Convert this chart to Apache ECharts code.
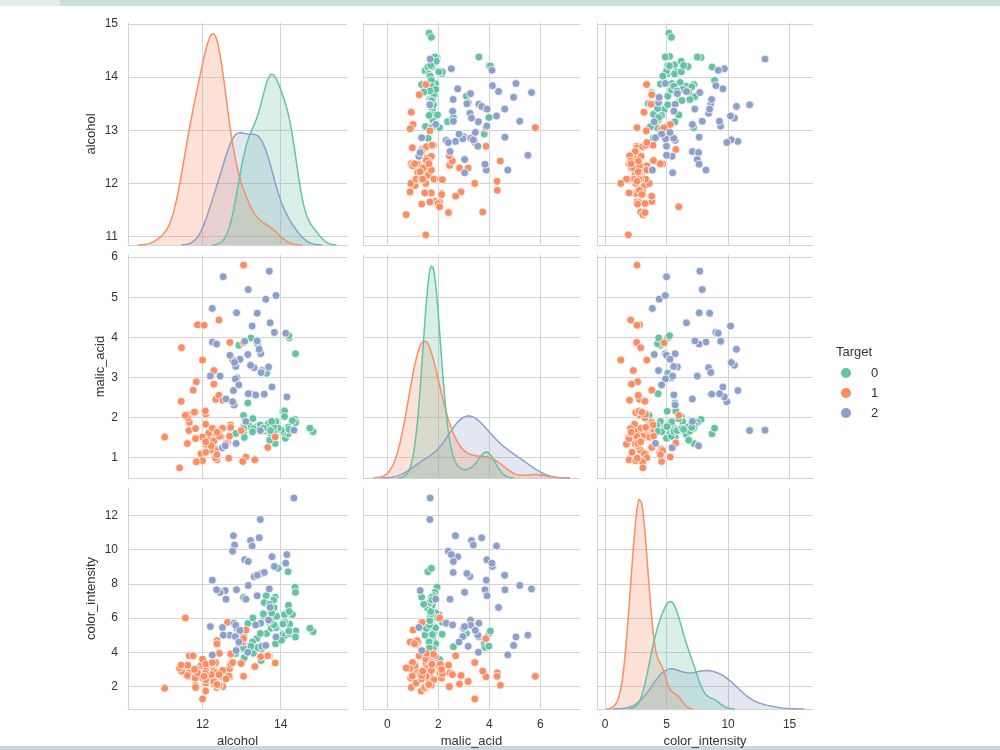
<!DOCTYPE html>
<html>
<head>
<meta charset="utf-8">
<title>wine pairplot</title>
<script src="https://cdn.jsdelivr.net/npm/echarts@6/dist/echarts.min.js"></script>
<style>
  html, body { margin: 0; padding: 0; background: #fff; }
  #pairplot { width: 1000px; height: 750px; }
</style>
</head>
<body>
<div id="pairplot"></div>
<script>
// wine measurements, split by target class (0, 1, 2)
const alcohol0 = [14.23, 13.2, 13.16, 14.37, 13.24, 14.2, 14.39, 14.06, 14.83, 13.86, 14.1, 14.12, 13.75, 14.75, 14.38, 13.63, 14.3, 13.83, 14.19, 13.64, 14.06, 12.93, 13.71, 12.85, 13.5, 13.05, 13.39, 13.3, 13.87, 14.02, 13.73, 13.58, 13.68, 13.76, 13.51, 13.48, 13.28, 13.05, 13.07, 14.22, 13.56, 13.41, 13.88, 13.24, 13.05, 14.21, 14.38, 13.9, 14.1, 13.94, 13.05, 13.83, 13.82, 13.77, 13.74, 13.56, 14.22, 13.29, 13.72];
const alcohol1 = [12.37, 12.33, 12.64, 13.67, 12.37, 12.17, 12.37, 13.11, 12.37, 13.34, 12.21, 12.29, 13.86, 13.49, 12.99, 11.96, 11.66, 13.03, 11.84, 12.33, 12.7, 12, 12.72, 12.08, 13.05, 11.84, 12.67, 12.16, 11.65, 11.64, 12.08, 12.08, 12, 12.69, 12.29, 11.62, 12.47, 11.81, 12.29, 12.37, 12.29, 12.08, 12.6, 12.34, 11.82, 12.51, 12.42, 12.25, 12.72, 12.22, 11.61, 11.46, 12.52, 11.76, 11.41, 12.08, 11.03, 11.82, 12.42, 12.77, 12, 11.45, 11.56, 12.42, 13.05, 11.87, 12.07, 12.43, 11.79, 12.37, 12.04];
const alcohol2 = [12.86, 12.88, 12.81, 12.7, 12.51, 12.6, 12.25, 12.53, 13.49, 12.84, 12.93, 13.36, 13.52, 13.62, 12.25, 13.16, 13.88, 12.87, 13.32, 13.08, 13.5, 12.79, 13.11, 13.23, 12.58, 13.17, 13.84, 12.45, 14.34, 13.48, 12.36, 13.69, 12.85, 12.96, 13.78, 13.73, 13.45, 12.82, 13.58, 13.4, 12.2, 12.77, 14.16, 13.71, 13.4, 13.27, 13.17, 14.13];

const malic0 = [1.71, 1.78, 2.36, 1.95, 2.59, 1.76, 1.87, 2.15, 1.64, 1.35, 2.16, 1.48, 1.73, 1.73, 1.87, 1.81, 1.92, 1.57, 1.59, 3.1, 1.63, 3.8, 1.86, 1.6, 1.81, 2.05, 1.77, 1.72, 1.9, 1.68, 1.5, 1.66, 1.83, 1.53, 1.8, 1.81, 1.64, 1.65, 1.5, 3.99, 1.71, 3.84, 1.89, 3.98, 1.77, 4.04, 3.59, 1.68, 2.02, 1.73, 1.73, 1.65, 1.75, 1.9, 1.67, 1.73, 1.7, 1.97, 1.43];
const malic1 = [0.94, 1.1, 1.36, 1.25, 1.13, 1.45, 1.21, 1.01, 1.17, 0.94, 1.19, 1.61, 1.51, 1.66, 1.67, 1.09, 1.88, 0.9, 2.89, 0.99, 3.87, 0.92, 1.81, 1.13, 3.86, 0.89, 0.98, 1.61, 1.67, 2.06, 1.33, 1.83, 1.51, 1.53, 2.83, 1.99, 1.52, 2.12, 1.41, 1.07, 3.17, 2.08, 1.34, 2.45, 1.72, 1.73, 2.55, 1.73, 1.75, 1.29, 1.35, 3.74, 2.43, 2.68, 0.74, 1.39, 1.51, 1.47, 1.61, 3.43, 3.43, 2.4, 2.05, 4.43, 5.8, 4.31, 2.16, 1.53, 2.13, 1.63, 4.3];
const malic2 = [1.35, 2.99, 2.31, 3.55, 1.24, 2.46, 4.72, 5.51, 3.59, 2.96, 2.81, 2.56, 3.17, 4.95, 3.88, 3.57, 5.04, 4.61, 3.24, 3.9, 3.12, 2.67, 1.9, 3.3, 1.29, 5.19, 4.12, 3.03, 1.68, 1.67, 3.83, 3.26, 3.27, 3.45, 2.76, 4.36, 3.7, 3.37, 2.58, 4.6, 3.03, 2.39, 2.51, 5.65, 3.91, 4.28, 2.59, 4.1];

const color0 = [5.64, 4.38, 5.68, 7.8, 4.32, 6.75, 5.25, 5.05, 5.2, 7.22, 5.75, 5, 5.6, 5.4, 7.5, 7.3, 6.2, 6.6, 8.7, 5.1, 5.65, 4.5, 3.8, 3.93, 3.52, 3.58, 4.8, 3.95, 4.5, 4.7, 5.7, 6.9, 3.84, 5.4, 4.2, 5.1, 4.6, 4.25, 3.7, 5.1, 6.13, 4.28, 5.43, 4.36, 5.04, 5.24, 4.9, 6.1, 6.2, 8.9, 7.2, 5.6, 7.05, 6.3, 5.85, 6.25, 6.38, 6, 6.8];
const color1 = [1.95, 3.27, 5.75, 3.8, 4.45, 2.95, 4.6, 5.3, 4.68, 3.17, 2.85, 3.05, 3.38, 3.74, 3.35, 3.21, 3.8, 4.6, 2.65, 3.4, 2.57, 2.5, 3.9, 2.2, 4.8, 3.05, 2.62, 2.45, 2.6, 2.8, 1.74, 2.4, 3.6, 3.05, 2.15, 3.25, 2.6, 2.5, 2.9, 4.5, 2.3, 3.3, 2.45, 2.8, 2.06, 2.94, 2.7, 3.4, 3.3, 2.7, 2.65, 2.9, 2, 3.8, 3.08, 2.9, 1.9, 1.95, 2.06, 3.4, 1.28, 3.25, 6, 2.08, 2.6, 2.8, 2.76, 3.94, 3, 2.12, 2.6];
const color2 = [4.1, 5.4, 5.7, 5, 5.45, 7.1, 3.85, 5, 5.7, 4.92, 4.6, 5.6, 4.35, 4.4, 8.21, 4, 4.9, 7.65, 8.42, 9.4, 8.6, 10.8, 7.1, 10.52, 7.6, 7.9, 9.01, 7.5, 13, 11.75, 7.65, 5.88, 5.58, 5.28, 9.58, 6.62, 10.68, 10.26, 8.66, 8.5, 5.5, 9.9, 9.7, 7.7, 7.3, 10.2, 9.3, 9.2];

const targets = ['0', '1', '2'];
const varNames = ['alcohol', 'malic_acid', 'color_intensity'];
const alcoholTicksX = [12, 14];
const alcoholTicksY = [11, 12, 13, 14, 15];
const malicTicksX = [0, 2, 4, 6];
const malicTicksY = [1, 2, 3, 4, 5, 6];
const colorTicksX = [0, 5, 10, 15];
const colorTicksY = [2, 4, 6, 8, 10, 12];

// layout (Set2 palette, seaborn whitegrid look)
const palette = ['#66c2a5', '#fc8d62', '#8da0cb'];
const gridColor = '#d3d3d3';
const textColor = '#333';
const fontFamily = '"Liberation Sans", Arial, sans-serif';
const colLeft = [128, 363, 597];
const colWidth = [219, 217, 216];
const rowTop = [23, 255, 488];
const rowHeight = [222, 223, 221];
const xRange = [[10.09, 15.70], [-0.95, 7.55], [-0.65, 16.9]];
const yRange = [[10.84, 15.02], [0.487, 6.053], [0.694, 13.586]];
const yNameGap = [30, 21, 30];

const columns = [
  [alcohol0, alcohol1, alcohol2],
  [malic0, malic1, malic2],
  [color0, color1, color2]
];
const xTicks = [alcoholTicksX, malicTicksX, colorTicksX];
const yTicks = [alcoholTicksY, malicTicksY, colorTicksY];
const totalCount = alcohol0.length + alcohol1.length + alcohol2.length;

// gaussian kde like seaborn (scott bandwidth, cut=3, common_norm)
function kdeCurve(values) {
  const n = values.length;
  const mean = values.reduce((a, b) => a + b, 0) / n;
  const sd = Math.sqrt(values.reduce((a, v) => a + (v - mean) * (v - mean), 0) / (n - 1));
  const bw = sd * Math.pow(n, -0.2);
  const lo = Math.min(...values) - 3 * bw;
  const hi = Math.max(...values) + 3 * bw;
  const pts = [];
  for (let i = 0; i < 200; i++) {
    const x = lo + (hi - lo) * i / 199;
    let s = 0;
    for (const v of values) {
      const z = (x - v) / bw;
      s += Math.exp(-0.5 * z * z);
    }
    pts.push([x, s / (bw * Math.sqrt(2 * Math.PI)) / totalCount]);
  }
  return pts;
}

const grids = [], xAxes = [], yAxes = [], scatterSeries = [], kdeSeries = [];

for (let r = 0; r < 3; r++) {
  for (let c = 0; c < 3; c++) {
    const g = r * 3 + c;
    grids.push({ left: colLeft[c], top: rowTop[r], width: colWidth[c], height: rowHeight[r] });
    xAxes.push({
      type: 'value', gridIndex: g, min: xRange[c][0], max: xRange[c][1],
      name: r === 2 ? varNames[c] : '', nameLocation: 'middle', nameGap: 26,
      nameTextStyle: { fontSize: 13, color: textColor, fontFamily: fontFamily },
      axisLine: { show: true, onZero: false, lineStyle: { color: gridColor, width: 1 } },
      axisTick: { show: false, customValues: xTicks[c] },
      axisLabel: { show: r === 2, customValues: xTicks[c], margin: 10, fontSize: 12, color: textColor, fontFamily: fontFamily },
      splitLine: { show: true, lineStyle: { color: gridColor, width: 1 } }
    });
    yAxes[g] = {
      type: 'value', gridIndex: g, min: yRange[r][0], max: yRange[r][1],
      name: c === 0 ? varNames[r] : '', nameLocation: 'middle', nameGap: yNameGap[r],
      nameTextStyle: { fontSize: 13, color: textColor, fontFamily: fontFamily },
      axisLine: { show: true, onZero: false, lineStyle: { color: gridColor, width: 1 } },
      axisTick: { show: false, customValues: yTicks[r] },
      axisLabel: { show: c === 0, customValues: yTicks[r], margin: 10, fontSize: 12, color: textColor, fontFamily: fontFamily },
      splitLine: { show: true, lineStyle: { color: gridColor, width: 1 } }
    };

    if (r !== c) {
      for (let k = 0; k < 3; k++) {
        const xs = columns[c][k], ys = columns[r][k];
        scatterSeries.push({
          type: 'scatter', name: targets[k], xAxisIndex: g, yAxisIndex: g,
          data: xs.map((x, i) => [x, ys[i]]),
          symbolSize: 8,
          itemStyle: { color: palette[k], borderColor: '#fff', borderWidth: 0.8, opacity: 1 }
        });
      }
    } else {
      // hidden density axis for the diagonal
      yAxes[9 + r] = {
        type: 'value', gridIndex: g, show: false, min: 0,
        max: v => v.max * 1.05
      };
      for (const k of [2, 1, 0]) {
        kdeSeries.push({
          type: 'line', name: targets[k], xAxisIndex: g, yAxisIndex: 9 + r,
          data: kdeCurve(columns[c][k]),
          showSymbol: false, symbol: 'none',
          lineStyle: { color: palette[k], width: 1.5 },
          itemStyle: { color: palette[k] },
          areaStyle: { color: palette[k], opacity: 0.25 }
        });
      }
    }
  }
}

const chart = echarts.init(document.getElementById('pairplot'));
chart.setOption({
  animation: false,
  backgroundColor: '#fff',
  title: {
    text: 'Target', left: 836, top: 346, padding: 0,
    textStyle: { fontSize: 13, fontWeight: 'normal', color: textColor, fontFamily: fontFamily }
  },
  legend: {
    orient: 'vertical', left: 841, top: 366, padding: 0,
    itemWidth: 10, itemHeight: 10, itemGap: 6, icon: 'circle', selectedMode: false,
    data: targets.map((t, k) => ({ name: t, itemStyle: { color: palette[k], borderWidth: 0 } })),
    textStyle: { fontSize: 13, lineHeight: 14, color: textColor, fontFamily: fontFamily, padding: [0, 0, 0, 15] }
  },
  graphic: [
    { type: 'rect', left: 0, top: 0, shape: { width: 60, height: 6 }, style: { fill: '#e2eeee' } },
    { type: 'rect', left: 60, top: 0, shape: { width: 940, height: 6 }, style: { fill: '#cde0df' } },
    { type: 'rect', left: 0, top: 746, shape: { width: 1000, height: 4 }, style: { fill: '#c8dadc' } }
  ],
  grid: grids,
  xAxis: xAxes,
  yAxis: yAxes,
  series: scatterSeries.concat(kdeSeries)
});
</script>
</body>
</html>
